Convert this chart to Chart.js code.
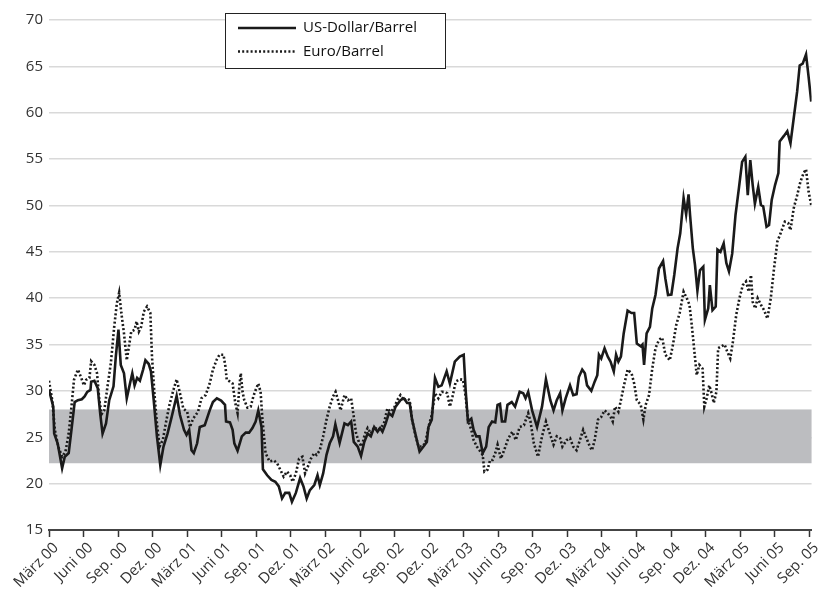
<!DOCTYPE html>
<html>
<head>
<meta charset="utf-8">
<script src="https://cdn.jsdelivr.net/npm/chart.js@4/dist/chart.umd.min.js"></script>
<style>
html,body{margin:0;padding:0;background:#fff;}
#wrap{width:824px;height:596px;}
</style>
</head>
<body>
<div id="wrap"><canvas id="c" width="824" height="596"></canvas></div>
<script>
// x = months since März 2000
const tickLabels = ["März 00","Juni 00","Sep. 00","Dez. 00","März 01","Juni 01","Sep. 01","Dez. 01","März 02","Juni 02","Sep. 02","Dez. 02","März 03","Juni 03","Sep. 03","Dez. 03","März 04","Juni 04","Sep. 04","Dez. 04","März 05","Juni 05","Sep. 05"];
const seriesNames = ["US-Dollar/Barrel", "Euro/Barrel"];
const bandRange = [22.2, 28];

const usdMonths = [0.00,0.37,0.45,0.75,1.14,1.37,1.71,1.95,2.23,2.51,2.85,3.09,3.32,3.60,3.66,3.94,4.23,4.46,4.65,4.95,5.23,5.60,5.80,6.03,6.23,6.51,6.75,7.03,7.23,7.43,7.65,7.89,8.17,8.37,8.66,8.85,9.09,9.37,9.66,9.94,10.29,10.65,11.08,11.37,11.72,11.94,12.17,12.37,12.57,12.86,13.09,13.52,13.95,14.23,14.57,14.94,15.28,15.37,15.71,15.94,16.09,16.37,16.74,17.08,17.37,17.66,17.94,18.17,18.45,18.57,18.94,19.31,19.65,19.95,20.23,20.51,20.85,21.09,21.43,21.80,22.09,22.37,22.65,23.03,23.31,23.51,23.80,24.09,24.37,24.66,24.86,25.23,25.65,25.95,26.23,26.46,26.80,27.09,27.37,27.66,27.94,28.23,28.52,28.74,28.95,29.23,29.51,29.80,30.09,30.51,30.80,31.09,31.31,31.52,31.80,32.17,32.51,32.80,32.94,33.23,33.51,33.80,34.09,34.52,34.80,35.23,35.66,36.00,36.17,36.37,36.66,36.86,37.09,37.37,37.65,37.95,38.17,38.46,38.74,38.94,39.15,39.32,39.60,39.80,40.17,40.46,40.86,41.17,41.37,41.60,41.94,42.37,42.80,43.14,43.52,43.80,44.08,44.37,44.57,44.85,45.23,45.51,45.80,46.00,46.29,46.52,46.71,47.08,47.37,47.60,47.74,47.94,48.23,48.51,48.75,49.03,49.23,49.43,49.65,49.89,50.23,50.57,50.80,51.03,51.37,51.52,51.66,51.88,52.17,52.37,52.65,52.95,53.31,53.51,53.74,54.03,54.28,54.57,54.80,55.09,55.31,55.52,55.65,55.89,56.08,56.29,56.51,56.80,56.94,57.23,57.37,57.60,57.88,58.03,58.29,58.57,58.80,59.03,59.31,59.60,59.89,60.17,60.45,60.66,60.88,61.09,61.28,61.57,61.80,62.00,62.29,62.51,62.74,63.03,63.32,63.43,63.80,64.09,64.37,64.65,64.95,65.17,65.43,65.72,65.94,66.17];
const usdValues = [30.1,28.3,25.4,24.35,21.65,22.9,23.3,25.8,28.8,29.0,29.1,29.4,29.9,30.1,31.0,31.1,30.3,27.4,25.4,26.5,29.0,30.5,33.7,36.6,32.8,31.9,29.2,30.8,31.9,30.6,31.4,31.1,32.3,33.3,32.9,32.1,29.0,25.1,22.0,24.0,25.4,27.2,29.45,27.4,25.8,25.25,25.8,23.6,23.3,24.35,26.1,26.3,27.9,28.8,29.2,28.95,28.5,26.7,26.6,25.8,24.35,23.55,25.1,25.5,25.5,26.0,26.7,27.9,26.1,21.55,20.9,20.4,20.2,19.7,18.4,19.0,19.0,18.05,19.0,20.6,19.7,18.4,19.3,19.85,20.9,19.85,21.1,23.1,24.35,25.1,26.4,24.4,26.5,26.3,26.7,24.5,24.0,23.0,24.5,25.4,25.1,26.1,25.6,26.0,25.6,26.5,27.6,27.3,28.3,29.0,29.2,28.7,28.7,26.9,25.4,23.45,24.0,24.5,26.1,26.9,31.4,30.45,30.6,32.1,30.8,33.15,33.7,33.9,30.1,26.7,27.0,25.8,25.1,25.1,23.3,24.0,26.1,26.7,26.6,28.5,28.6,26.7,26.7,28.5,28.8,28.3,29.9,29.75,29.2,29.9,27.9,26.1,28.3,31.25,29.0,27.9,29.0,29.75,27.9,29.2,30.6,29.55,29.65,31.5,32.3,31.9,30.6,30.0,31.0,31.7,33.9,33.5,34.6,33.7,33.15,32.1,33.9,33.15,33.7,36.2,38.65,38.4,38.4,35.1,34.8,35.0,32.8,36.2,36.9,38.9,40.35,43.2,44.0,42.1,40.35,40.4,42.5,45.4,47.0,50.8,49.05,51.2,49.0,45.4,43.6,40.8,43.0,43.4,37.65,38.9,41.4,38.7,39.1,45.25,45.0,45.9,43.8,42.9,44.8,49.0,51.85,54.7,55.25,51.1,54.9,52.2,50.2,52.0,50.05,49.9,47.7,47.9,50.6,52.2,53.5,56.9,57.5,58.0,56.7,59.4,62.3,65.1,65.3,66.3,63.9,61.2];

const eurMonths = [0.00,0.28,0.51,0.80,1.14,1.43,1.71,1.95,2.17,2.51,2.80,3.03,3.23,3.51,3.66,3.94,4.17,4.37,4.57,4.80,5.08,5.37,5.66,5.89,6.09,6.28,6.51,6.75,6.94,7.14,7.43,7.60,7.80,8.00,8.23,8.51,8.80,8.94,9.15,9.37,9.60,9.88,10.17,10.46,10.80,11.08,11.37,11.66,12.00,12.23,12.51,12.94,13.23,13.60,13.95,14.23,14.57,14.80,15.15,15.32,15.43,15.71,15.94,16.17,16.37,16.52,16.65,16.80,16.95,17.23,17.51,17.74,17.94,18.17,18.37,18.51,18.80,19.14,19.52,19.80,20.08,20.37,20.66,20.94,21.15,21.43,21.71,22.00,22.23,22.46,22.74,23.03,23.23,23.51,23.80,24.09,24.37,24.66,24.88,25.09,25.31,25.65,25.95,26.23,26.46,26.66,26.94,27.15,27.43,27.66,27.94,28.23,28.52,28.80,29.08,29.37,29.66,29.94,30.23,30.51,30.80,31.09,31.31,31.52,31.80,32.08,32.37,32.66,32.94,33.23,33.51,33.80,34.09,34.37,34.57,34.80,35.03,35.31,35.66,35.94,36.17,36.37,36.66,36.86,37.14,37.37,37.65,37.80,38.08,38.29,38.51,38.74,38.94,39.23,39.51,39.88,40.23,40.52,40.86,41.23,41.60,41.80,42.09,42.45,42.80,43.14,43.52,43.80,44.08,44.37,44.57,44.94,45.23,45.51,45.80,46.09,46.37,46.66,46.95,47.14,47.37,47.66,47.94,48.23,48.51,48.75,48.94,49.14,49.43,49.65,49.89,50.23,50.57,50.80,51.03,51.37,51.60,51.80,52.09,52.37,52.65,52.95,53.23,53.51,53.89,54.17,54.45,54.75,55.09,55.37,55.60,55.80,56.00,56.23,56.46,56.74,56.89,57.09,57.32,57.52,57.71,57.94,58.09,58.37,58.65,58.86,59.14,59.37,59.66,59.94,60.23,60.51,60.75,60.94,61.09,61.31,61.52,61.80,62.08,62.37,62.66,62.94,63.23,63.51,63.88,64.17,64.37,64.65,64.95,65.23,65.51,65.72,65.94,66.17];
const eurValues = [31.1,29.0,25.8,24.0,22.9,23.45,25.4,28.3,31.2,32.3,31.4,30.6,31.2,31.4,33.2,32.8,31.9,29.0,27.5,27.9,30.5,33.0,36.9,39.45,40.6,38.4,36.2,33.3,34.8,36.4,36.6,37.5,36.4,36.9,38.55,39.1,38.4,33.7,29.75,26.5,24.0,24.7,26.7,28.5,30.1,31.25,29.75,28.1,27.75,26.1,27.0,27.75,29.2,29.55,30.8,32.3,33.4,33.9,33.9,32.6,31.2,31.0,30.8,28.7,27.6,30.45,31.9,29.9,29.0,28.2,28.3,29.4,30.1,30.8,29.9,27.2,23.3,22.4,22.5,22.2,21.5,20.75,21.3,20.9,20.2,21.1,22.7,22.9,21.1,21.8,22.7,23.3,23.1,23.6,25.1,26.9,28.3,29.4,29.9,29.0,27.9,29.55,29.0,29.2,27.2,25.4,24.35,24.0,25.4,26.0,25.4,26.1,25.8,26.0,26.5,28.1,27.75,28.1,29.0,29.55,29.0,29.2,29.0,26.9,25.25,24.0,24.0,24.35,26.1,27.4,29.75,29.2,29.9,29.9,29.75,28.3,29.4,31.0,31.25,31.2,29.4,26.9,25.8,24.7,24.0,23.6,23.1,21.3,21.5,22.55,22.55,23.3,24.2,22.7,23.6,24.9,25.6,24.7,26.1,26.3,27.6,26.7,24.35,22.9,25.1,26.7,25.25,24.2,25.1,24.9,24.0,24.7,24.9,24.0,23.6,24.7,25.8,24.9,24.0,23.6,24.7,26.9,27.2,27.9,27.6,27.2,26.7,28.3,27.75,29.0,30.45,32.3,31.9,30.8,29.0,28.5,26.9,28.5,29.55,32.4,34.6,35.5,35.75,33.9,33.3,35.0,37.1,38.4,40.7,40.0,39.3,37.1,34.6,31.7,32.8,32.4,28.3,29.2,30.6,29.75,28.7,29.9,34.6,34.8,35.0,34.3,33.5,35.3,38.2,40.0,41.4,41.8,40.7,42.5,39.6,38.9,40.0,39.3,38.7,37.8,40.0,43.2,46.1,47.0,48.25,48.1,47.35,49.7,51.1,52.55,53.5,53.9,51.5,50.05];

const toPoints = (xs, ys) => xs.map((x, i) => ({x: x, y: ys[i]}));
const FONT = "'Open Sans', 'Noto Sans', sans-serif";
const TXT = '#333333';

const bandPlugin = {
  id: 'band',
  beforeDatasetsDraw(chart) {
    const {ctx, chartArea, scales} = chart;
    const yTop = scales.y.getPixelForValue(bandRange[1]);
    const yBot = scales.y.getPixelForValue(bandRange[0]);
    ctx.save();
    ctx.fillStyle = '#bcbdc0';
    ctx.fillRect(chartArea.left, yTop, chartArea.right - chartArea.left, yBot - yTop);
    ctx.restore();
  }
};

const legendPlugin = {
  id: 'boxLegend',
  afterDraw(chart) {
    const ctx = chart.ctx;
    const x0 = 225.5, y0 = 13.5, w = 220, h = 55;
    ctx.save();
    ctx.fillStyle = '#ffffff';
    ctx.fillRect(x0, y0, w, h);
    ctx.strokeStyle = '#222222';
    ctx.lineWidth = 1;
    ctx.strokeRect(x0, y0, w, h);
    chart.data.datasets.forEach((ds, i) => {
      const y = 28 + i * 23.5;
      ctx.beginPath();
      ctx.strokeStyle = ds.borderColor;
      ctx.lineWidth = ds.borderWidth;
      ctx.setLineDash(ds.borderDash || []);
      ctx.moveTo(238, y);
      ctx.lineTo(296, y);
      ctx.stroke();
      ctx.setLineDash([]);
      ctx.fillStyle = '#111111';
      ctx.font = '15px ' + FONT;
      ctx.textBaseline = 'middle';
      ctx.textAlign = 'left';
      ctx.fillText(ds.label, 303, y);
    });
    ctx.restore();
  }
};

new Chart(document.getElementById('c'), {
  type: 'line',
  data: {
    datasets: [
      {
        label: seriesNames[0],
        data: toPoints(usdMonths, usdValues),
        borderColor: '#1a1a1a',
        borderWidth: 2.6,
        pointRadius: 0,
        tension: 0,
        fill: false
      },
      {
        label: seriesNames[1],
        data: toPoints(eurMonths, eurValues),
        borderColor: '#1a1a1a',
        borderWidth: 2.6,
        borderDash: [2, 2.2],
        borderCapStyle: 'butt',
        pointRadius: 0,
        tension: 0,
        fill: false
      }
    ]
  },
  options: {
    responsive: false,
    animation: false,
    devicePixelRatio: 1,
    layout: { padding: { top: 20, right: 3, left: 0, bottom: 0 } },
    plugins: {
      legend: { display: false },
      tooltip: { enabled: false }
    },
    scales: {
      x: {
        type: 'linear',
        min: 0,
        max: 66.2,
        afterFit(scale) { scale.height = 66; },
        afterBuildTicks(scale) {
          scale.ticks = tickLabels.map((_, i) => ({ value: i * 3 }));
        },
        grid: {
          drawOnChartArea: false,
          drawTicks: true,
          tickLength: 7,
          tickColor: '#333333',
          tickWidth: 1.5
        },
        border: { display: true, color: '#444444', width: 2 },
        ticks: {
          autoSkip: false,
          maxRotation: 45,
          minRotation: 45,
          padding: 2,
          labelOffset: 7,
          color: TXT,
          font: { family: FONT, size: 15 },
          callback: (v) => tickLabels[Math.round(v / 3)]
        }
      },
      y: {
        min: 15,
        max: 70,
        afterFit(scale) { scale.width = 49; },
        ticks: {
          stepSize: 5,
          padding: 6,
          color: TXT,
          font: { family: FONT, size: 15 }
        },
        grid: {
          color: (c) => c.tick && c.tick.value === 15 ? 'rgba(0,0,0,0)' : '#d9d9d9',
          lineWidth: 1.5,
          drawTicks: false
        },
        border: { display: false }
      }
    }
  },
  plugins: [bandPlugin, legendPlugin]
});
</script>
</body>
</html>
